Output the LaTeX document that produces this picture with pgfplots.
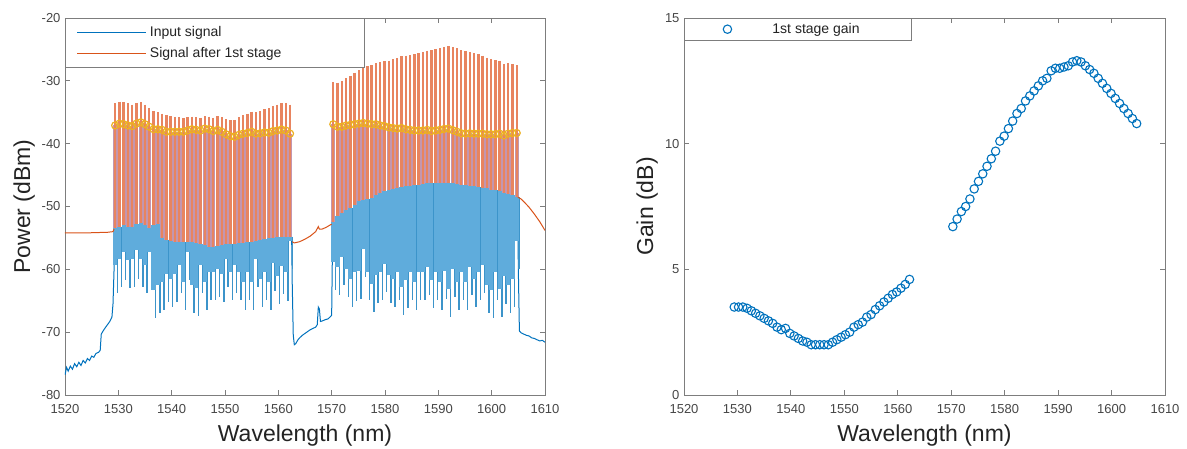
\documentclass[border=0pt]{standalone}
\usepackage{pgfplots}
\pgfplotsset{compat=1.18}
\usepackage{pgfplotstable}
\usepackage{fontspec}
\setmainfont{Liberation Sans}
\definecolor{axgray}{RGB}{125,125,125}
\definecolor{tickgray}{RGB}{70,70,70}
\definecolor{labgray}{RGB}{35,35,35}
\definecolor{cBlue}{RGB}{0,114,189}
\definecolor{cBlueL}{RGB}{95,172,220}
\definecolor{cBlueD}{RGB}{60,148,202}
\definecolor{cMauve}{RGB}{195,150,175}
\definecolor{cOrange}{RGB}{217,83,25}
\definecolor{cOrangeL}{RGB}{232,132,95}
\definecolor{cYellow}{RGB}{237,177,32}

% per channel: wavelength, output peak (ot), input peak (m), input body top (bt), input valley after channel (bv), gain (g)
\pgfplotstableread{
x      ot     m      bt     bv     g
1529.4 -33.6 -37.1 -53.4 -63.8 3.5
1530.2 -33.3 -36.8 -53.2 -62.8 3.5
1531.0 -33.4 -36.9 -53.0 -61.7 3.5
1531.8 -33.6 -37.1 -53.2 -63.0 3.45
1532.6 -33.8 -37.2 -53.3 -62.8 3.35
1533.4 -33.5 -36.8 -52.8 -61.5 3.25
1534.2 -33.4 -36.6 -52.7 -62.8 3.15
1535.0 -33.8 -36.9 -53.0 -63.8 3.05
1535.8 -34.3 -37.3 -53.5 -61.7 2.95
1536.6 -34.8 -37.7 -53.0 -67.8 2.85
1537.4 -35.0 -37.7 -52.8 -67.0 2.7
1538.2 -35.2 -37.8 -55.0 -66.5 2.6
1539.0 -35.4 -38.1 -55.3 -65.2 2.65
1539.8 -35.6 -38.1 -55.5 -66.0 2.45
1540.6 -35.7 -38.1 -55.6 -65.2 2.35
1541.4 -35.8 -38.1 -55.6 -63.8 2.25
1542.2 -35.9 -38.1 -55.7 -66.5 2.15
1543.0 -35.8 -37.9 -55.6 -61.7 2.1
1543.8 -35.7 -37.7 -55.7 -67.0 2.0
1544.6 -35.8 -37.8 -55.8 -67.5 2.0
1545.4 -35.9 -37.9 -56.0 -63.8 2.0
1546.2 -35.6 -37.6 -56.2 -66.5 2.0
1547.0 -35.7 -37.7 -56.4 -64.9 2.0
1547.8 -35.9 -38.0 -56.4 -64.9 2.1
1548.6 -35.6 -37.8 -56.3 -64.4 2.2
1549.4 -35.8 -38.1 -56.2 -65.2 2.3
1550.2 -36.1 -38.5 -56.0 -62.8 2.4
1551.0 -36.3 -38.8 -55.9 -64.9 2.5
1551.8 -36.2 -38.9 -55.9 -63.8 2.7
1552.6 -35.8 -38.6 -55.8 -64.9 2.8
1553.4 -35.5 -38.4 -55.8 -66.5 2.9
1554.2 -35.2 -38.3 -55.7 -64.9 3.1
1555.0 -34.9 -38.1 -55.6 -66.5 3.2
1555.8 -35.0 -38.4 -55.5 -62.8 3.4
1556.6 -34.8 -38.35 -55.4 -66.0 3.55
1557.4 -34.5 -38.2 -55.2 -64.9 3.7
1558.2 -34.4 -38.25 -55.0 -66.5 3.85
1559.0 -34.0 -38.0 -55.0 -63.5 4.0
1559.8 -33.8 -37.9 -54.9 -65.5 4.1
1560.6 -33.5 -37.75 -54.8 -64.0 4.25
1561.4 -33.5 -37.9 -54.8 -65.0 4.4
1562.2 -33.8 -38.4 -54.8 -60.0 4.6
1570.3 -30.2 -36.9 -52.5 -63.3 6.7
1571.1 -30.3 -37.3 -51.5 -64.1 7.0
1571.9 -30.0 -37.3 -51.0 -62.5 7.3
1572.7 -29.6 -37.1 -50.6 -64.4 7.5
1573.5 -29.2 -37.0 -50.2 -66.0 7.8
1574.3 -28.7 -36.9 -49.7 -65.0 8.2
1575.1 -28.3 -36.8 -49.2 -64.7 8.5
1575.9 -27.9 -36.7 -49.0 -61.2 8.8
1576.7 -27.7 -36.8 -48.8 -64.9 9.1
1577.5 -27.5 -36.9 -48.6 -66.8 9.4
1578.3 -27.2 -36.9 -48.2 -65.4 9.7
1579.1 -27.0 -37.1 -47.9 -64.9 10.1
1579.9 -26.9 -37.2 -47.6 -63.6 10.3
1580.7 -26.8 -37.4 -47.4 -65.4 10.6
1581.5 -26.6 -37.5 -47.2 -66.0 10.9
1582.3 -26.4 -37.6 -47.0 -64.9 11.2
1583.1 -26.1 -37.5 -46.9 -67.3 11.4
1583.9 -26.0 -37.7 -46.8 -66.2 11.7
1584.7 -25.9 -37.8 -46.7 -64.9 11.9
1585.5 -25.8 -37.9 -46.6 -66.5 12.1
1586.3 -25.6 -37.9 -46.5 -64.9 12.3
1587.1 -25.4 -37.9 -46.4 -64.9 12.5
1587.9 -25.2 -37.8 -46.3 -64.1 12.6
1588.7 -25.1 -38.0 -46.3 -66.2 12.9
1589.5 -24.9 -37.9 -46.2 -64.9 13.0
1590.3 -24.8 -37.8 -46.2 -66.5 13.0
1591.1 -24.6 -37.65 -46.2 -64.7 13.05
1591.9 -24.5 -37.6 -46.3 -67.6 13.1
1592.7 -24.6 -37.85 -46.3 -64.4 13.25
1593.5 -24.8 -38.1 -46.4 -66.5 13.3
1594.3 -25.1 -38.35 -46.5 -64.9 13.25
1595.1 -25.3 -38.4 -46.6 -66.5 13.1
1595.9 -25.4 -38.35 -46.7 -64.1 12.95
1596.7 -25.6 -38.4 -46.8 -66.0 12.8
1597.5 -25.8 -38.4 -46.9 -64.9 12.6
1598.3 -26.0 -38.4 -47.0 -63.8 12.4
1599.1 -26.3 -38.5 -47.1 -67.0 12.2
1599.9 -26.5 -38.5 -47.3 -67.8 12.0
1600.7 -26.7 -38.5 -47.4 -64.9 11.8
1601.5 -26.8 -38.4 -47.6 -67.6 11.6
1602.3 -27.3 -38.7 -47.8 -65.5 11.4
1603.1 -27.2 -38.4 -48.0 -67.0 11.2
1603.9 -27.3 -38.3 -48.2 -66.0 11.0
1604.7 -27.5 -38.3 -48.5 -60.0 10.8
}\chan

\pgfplotsset{
  mybase/.style={
    scale only axis, height=377pt,
    xmin=1520, xmax=1610, xtick={1520,1530,...,1610},
    axis line style={draw=axgray, line width=0.9pt},
    tick style={draw=axgray, line width=0.9pt},
    major tick length=5pt, tick align=inside,
    ticklabel style={font=\fontsize{13}{15}\selectfont, text=tickgray},
    xticklabel style={yshift=-5.5pt},
    yticklabel style={xshift=-1pt},
    /pgf/number format/1000 sep={},
    /pgf/number format/assume math mode=true,
    every axis label/.append style={font=\fontsize{23}{27}\selectfont, text=labgray},
    xlabel style={at={(axis description cs:0.5,-0.1239)}, anchor=base},
    xlabel={Wavelength (nm)},
  }
}

\begin{document}
\begin{tikzpicture}
\path[use as bounding box] (0,0) rectangle (1187pt,448pt);

\begin{axis}[mybase, at={(65pt,53pt)}, anchor=south west, width=480pt,
  ymin=-80, ymax=-20, ytick={-80,-70,...,-20},
  ylabel={Power (dBm)},
  ylabel style={at={(axis description cs:-0.0729,0.5)}, anchor=base, rotate=0},
  legend style={at={(0,1)}, anchor=north west, draw=axgray, line width=0.9pt, fill=white,
    font=\fontsize{14}{17}\selectfont, text=labgray, inner xsep=0pt, inner ysep=3.5pt,
    nodes={inner xsep=3pt, inner ysep=0pt, minimum height=21pt}},
  legend cell align=left,
  legend image code/.code={\path[draw=none] (0pt,0pt) -- (81pt,0pt); \draw[#1] (12pt,0pt) -- (81pt,0pt);},
]
% input signal, out-of-band parts
\addplot[cBlue, line width=1pt, forget plot] coordinates {
(1520.0,-76.8) (1520.3,-75.6) (1520.6,-76.2) (1521.0,-75.4) (1521.4,-75.9) (1521.8,-75.0)
(1522.2,-75.5) (1522.6,-74.8) (1523.0,-75.3) (1523.4,-74.5) (1523.8,-74.9) (1524.2,-74.2)
(1524.6,-74.5) (1525.0,-73.8) (1525.4,-74.0) (1525.8,-73.4) (1526.3,-73.2) (1526.6,-72.9)
(1526.8,-70.3) (1527.3,-69.6) (1527.8,-69.0) (1528.4,-68.3) (1528.8,-67.6) (1529.0,-65.5)
(1529.2,-60.0) (1529.3,-55.0)};
\addplot[cBlue, line width=1pt, forget plot] coordinates {
(1562.5,-55.0) (1562.6,-62.0) (1562.8,-70.5) (1563.0,-72.0) (1563.3,-71.8) (1563.6,-71.3)
(1564.0,-70.9) (1564.5,-70.5) (1565.0,-70.2) (1565.5,-69.9) (1566.0,-69.6) (1566.5,-69.4)
(1567.0,-69.2) (1567.3,-68.8) (1567.5,-66.0) (1567.7,-66.3) (1567.9,-68.3) (1568.3,-68.2)
(1568.8,-68.0) (1569.3,-67.9) (1569.8,-67.5) (1570.0,-67.3) (1570.1,-60.0) (1570.2,-53.0)};
\addplot[cBlue, line width=1pt, forget plot] coordinates {
(1604.9,-50.0) (1605.0,-60.0) (1605.2,-69.8) (1605.5,-70.1) (1606.0,-70.3) (1606.5,-70.5)
(1607.0,-70.6) (1607.5,-70.9) (1608.0,-71.0) (1608.5,-71.2) (1609.0,-71.4) (1609.5,-71.3)
(1610.0,-71.6)};
% input signal: dips between channels
\addplot[draw=none, forget plot, error bars/.cd, y dir=minus, y explicit, error mark=none,
  error bar style={draw=cBlueD, line width=1.4pt}]
  table[x expr=\thisrow{x}+0.4, y=bt, y error expr=\thisrow{bt}-\thisrow{bv}] {\chan};
% input signal: channel body
\addplot[draw=none, forget plot, error bars/.cd, y dir=minus, y explicit, error mark=none,
  error bar style={draw=cBlueL, line width=4.1pt}]
  table[x=x, y=bt, y error expr=\thisrow{bt}-\thisrow{bv}-4.5] {\chan};
% input signal: channel peaks
\addplot[draw=none, forget plot, error bars/.cd, y dir=minus, y explicit, error mark=none,
  error bar style={draw=cMauve, line width=4pt}]
  table[x=x, y=m, y error expr=\thisrow{m}-\thisrow{bt}] {\chan};
% output after 1st stage, out-of-band parts
\addplot[cOrange, line width=1pt, forget plot] coordinates {
(1520.0,-54.2) (1524.0,-54.2) (1528.0,-54.1) (1529.0,-54.0) (1529.2,-53.6)};
\addplot[cOrange, line width=1pt, forget plot] coordinates {
(1562.6,-55.6) (1563.0,-55.8) (1564.0,-55.6) (1565.0,-55.2) (1566.0,-54.7) (1567.0,-54.0)
(1567.5,-53.2) (1567.7,-53.6) (1568.2,-53.6) (1569.0,-53.3) (1570.0,-52.8)};
\addplot[cOrange, line width=1pt, forget plot] coordinates {
(1604.9,-48.5) (1605.5,-48.8) (1606.0,-49.2) (1607.0,-50.1) (1608.0,-51.2) (1609.0,-52.4)
(1610.0,-53.8)};
% output channel peaks
\addplot[draw=none, forget plot, error bars/.cd, y dir=minus, y explicit, error mark=none,
  error bar style={draw=cOrangeL, line width=2.4pt}]
  table[x=x, y=ot, y error expr=\thisrow{ot}-\thisrow{bt}] {\chan};
% input peak markers
\addplot[only marks, mark=o, mark size=3.5pt, cYellow, mark options={line width=1.2pt}, forget plot]
  table[x=x, y=m] {\chan};

\addlegendimage{cBlue, line width=1pt}
\addlegendentry{\makebox[211pt][l]{Input signal}}
\addlegendimage{cOrange, line width=1pt}
\addlegendentry{\makebox[211pt][l]{Signal after 1st stage}}
\end{axis}

\begin{axis}[mybase, at={(684pt,53pt)}, anchor=south west, width=481pt,
  ymin=0, ymax=15, ytick={0,5,10,15},
  ylabel={Gain (dB)},
  ylabel style={at={(axis description cs:-0.064,0.5)}, anchor=base, rotate=0},
  legend style={at={(0,1)}, anchor=north west, draw=axgray, line width=0.9pt, fill=white,
    font=\fontsize{14}{17}\selectfont, text=labgray, inner xsep=0pt, inner ysep=0pt,
    nodes={inner xsep=3pt, inner ysep=0pt, minimum height=21.5pt}},
  legend cell align=left,
  legend image code/.code={\path[draw=none] (0pt,0pt) -- (85pt,0pt); \draw[#1] plot coordinates {(43pt,0pt)};},
]
\addplot[only marks, mark=o, mark size=4.2pt, cBlue, mark options={line width=1.1pt}]
  table[x=x, y=g] {\chan};
\addlegendentry{\makebox[136pt][l]{1st stage gain}}
\end{axis}
\end{tikzpicture}
\end{document}
